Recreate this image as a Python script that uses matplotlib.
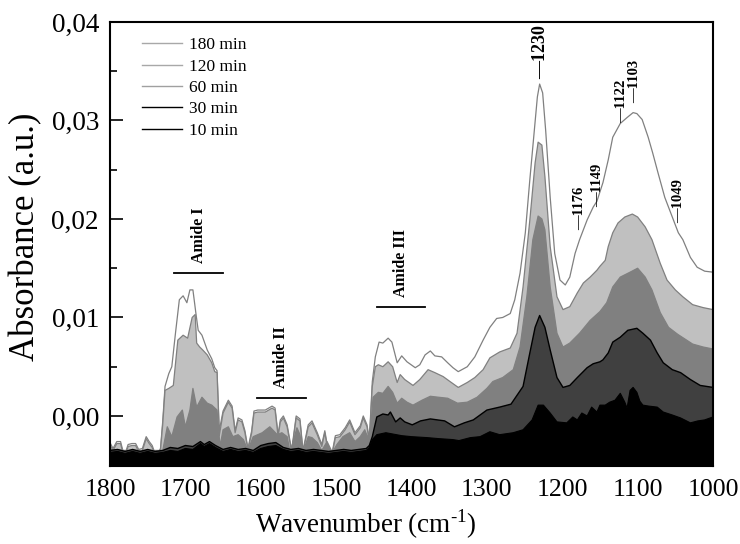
import matplotlib
matplotlib.use("Agg")
import matplotlib.pyplot as plt
from matplotlib.lines import Line2D
from matplotlib.ticker import MultipleLocator, FuncFormatter

plt.rcParams['font.family'] = ['Liberation Serif', 'DejaVu Serif']
plt.rcParams['mathtext.fontset'] = 'custom'
plt.rcParams['mathtext.rm'] = 'Liberation Serif'

# ---------------- data ----------------
w180 = [1800, 1796, 1791, 1786, 1781, 1776, 1771, 1766, 1762, 1757, 1752, 1748, 1744, 1739, 1733,
        1730, 1727, 1722, 1718, 1713, 1708, 1703, 1698, 1694, 1690, 1686, 1683, 1678, 1671, 1665,
        1661, 1658, 1655, 1650, 1643, 1638, 1634, 1630, 1625, 1621, 1617, 1612, 1609, 1604, 1594,
        1585, 1581, 1577, 1574, 1570, 1565, 1559, 1553, 1548, 1544, 1537, 1532, 1525, 1519, 1515,
        1511, 1505, 1501, 1495, 1488, 1482, 1475, 1468, 1464, 1459, 1456, 1452, 1448, 1443, 1438,
        1431, 1426, 1419, 1413, 1406, 1395, 1389, 1382, 1375, 1369, 1360, 1352, 1345, 1338, 1326,
        1316, 1305, 1296, 1287, 1279, 1269, 1263, 1256, 1249, 1243, 1237, 1233, 1230, 1226, 1222,
        1216, 1210, 1203, 1196, 1190, 1183, 1177, 1167, 1159, 1154, 1146, 1139, 1133, 1123, 1114,
        1106, 1101, 1094, 1086, 1080, 1073, 1064, 1054, 1046, 1040, 1030, 1021, 1011, 1000]
a180 = [-0.0027, -0.0033, -0.0026, -0.0026, -0.0041, -0.0029, -0.0028, -0.0028, -0.0034, -0.0033,
        -0.0021, -0.0026, -0.0030, -0.0041, -0.0033,
        -0.0005, 0.0030, 0.0043, 0.0050, 0.0085, 0.0118, 0.0122, 0.0115, 0.0128, 0.0128, 0.0104,
        0.0087, 0.0082, 0.0067, 0.0058, 0.0049, 0.0046, -0.0015, 0.0005, 0.0016, 0.0010, -0.0015,
        -0.0002, -0.0004, -0.0015, -0.0033, -0.0015, 0.0005, 0.0006, 0.0006, 0.0010, 0.0008,
        -0.0019, -0.0004, 0.0000, -0.0009, -0.0035, 0.0000, -0.0003, -0.0035, -0.0009, -0.0005,
        -0.0017, -0.0029, -0.0015, -0.0033, -0.0036, -0.0020, -0.0019, -0.0012, -0.0004, -0.0017,
        -0.0010, 0.0000, -0.0009, -0.0025, 0.0035, 0.0060, 0.0075, 0.0074, 0.0079, 0.0075, 0.0054,
        0.0061, 0.0055, 0.0049, 0.0052, 0.0062, 0.0066, 0.0061, 0.0060, 0.0054, 0.0049, 0.0045,
        0.0050, 0.0060, 0.0077, 0.0090, 0.0099, 0.0100, 0.0104, 0.0118, 0.0145, 0.0186, 0.0240,
        0.0290, 0.0324, 0.0337, 0.0328, 0.0290, 0.0222, 0.0165, 0.0138, 0.0133, 0.0141, 0.0165,
        0.0179, 0.0199, 0.0212, 0.0218, 0.0237, 0.0260, 0.0283, 0.0297, 0.0303, 0.0308, 0.0307,
        0.0301, 0.0283, 0.0267, 0.0247, 0.0222, 0.0202, 0.0186, 0.0179, 0.0161, 0.0151, 0.0147,
        0.0146]

w120 = [1800, 1796, 1791, 1786, 1781, 1776, 1771, 1766, 1762, 1757, 1752, 1748, 1744, 1739, 1733,
        1730, 1727, 1722, 1716, 1710, 1703, 1697, 1691, 1687, 1685, 1681, 1677, 1671, 1665, 1661,
        1658, 1655, 1650, 1643, 1638, 1634, 1630, 1625, 1621, 1617, 1612, 1609, 1604, 1594, 1585,
        1581, 1577, 1574, 1570, 1565, 1559, 1553, 1548, 1544, 1537, 1532, 1525, 1519, 1515, 1511,
        1505, 1501, 1495, 1488, 1482, 1475, 1468, 1464, 1459, 1456, 1452, 1448, 1444, 1438, 1431,
        1425, 1419, 1415, 1409, 1398, 1389, 1378, 1369, 1358, 1349, 1338, 1326, 1316, 1305, 1296,
        1283, 1269, 1260, 1252, 1243, 1236, 1232, 1227, 1223, 1216, 1207, 1199, 1190, 1180, 1172,
        1163, 1154, 1150, 1143, 1139, 1133, 1126, 1117, 1107, 1100, 1090, 1081, 1070, 1061, 1050,
        1040, 1027, 1013, 1000]
a120 = [-0.0029, -0.0035, -0.0028, -0.0028, -0.0043, -0.0031, -0.0030, -0.0030, -0.0036, -0.0035,
        -0.0023, -0.0028, -0.0032, -0.0043, -0.0035,
        -0.0008, 0.0026, 0.0028, 0.0031, 0.0077, 0.0082, 0.0079, 0.0100, 0.0103, 0.0074, 0.0070,
        0.0067, 0.0062, 0.0054, 0.0045, 0.0044, -0.0020, 0.0003, 0.0014, 0.0008, -0.0017, -0.0004,
        -0.0006, -0.0017, -0.0035, -0.0017, 0.0003, 0.0004, 0.0004, 0.0008, 0.0006, -0.0021,
        -0.0006, -0.0002, -0.0011, -0.0037, -0.0002, -0.0005, -0.0037, -0.0011, -0.0007, -0.0019,
        -0.0031, -0.0017, -0.0035, -0.0038, -0.0022, -0.0021, -0.0014, -0.0006, -0.0019, -0.0012,
        -0.0002, -0.0011, -0.0027, 0.0030, 0.0050, 0.0052, 0.0050, 0.0055, 0.0050, 0.0034, 0.0042,
        0.0037, 0.0031, 0.0037, 0.0047, 0.0044, 0.0040, 0.0035, 0.0029, 0.0034, 0.0039, 0.0047,
        0.0059, 0.0065, 0.0069, 0.0084, 0.0131, 0.0199, 0.0257, 0.0278, 0.0275, 0.0243, 0.0172,
        0.0121, 0.0108, 0.0111, 0.0125, 0.0135, 0.0141, 0.0148, 0.0152, 0.0158, 0.0172, 0.0186,
        0.0196, 0.0202, 0.0205, 0.0202, 0.0192, 0.0179, 0.0155, 0.0138, 0.0128, 0.0121, 0.0113,
        0.0110, 0.0108]

w60 = [1800, 1780, 1760, 1740, 1733, 1730, 1724, 1718, 1711, 1704, 1700, 1694, 1690, 1685, 1678,
       1671, 1665, 1658, 1654, 1650, 1643, 1637, 1630, 1623, 1617, 1610, 1598, 1588, 1578, 1572,
       1565, 1561, 1552, 1548, 1544, 1537, 1532, 1525, 1519, 1512, 1505, 1499, 1491, 1482, 1475,
       1468, 1462, 1458, 1454, 1451, 1444, 1438, 1431, 1425, 1419, 1413, 1406, 1398, 1386, 1375,
       1364, 1352, 1339, 1326, 1313, 1300, 1292, 1279, 1265, 1256, 1247, 1239, 1232, 1227, 1223,
       1216, 1207, 1199, 1190, 1177, 1163, 1150, 1141, 1133, 1123, 1110, 1100, 1090, 1081, 1070,
       1059, 1047, 1037, 1027, 1013, 1000]
a60 = [-0.0034, -0.0035, -0.0035, -0.0035, -0.0035, -0.0035, -0.0011, -0.0021, -0.0001, 0.0006,
       -0.0011, 0.0006, 0.0028, 0.0009, 0.0019, 0.0013, 0.0011, 0.0006, -0.0031, -0.0014, -0.0011,
       -0.0021, -0.0019, -0.0024, -0.0035, -0.0021, -0.0017, -0.0011, -0.0019, -0.0017, -0.0021,
       -0.0037, -0.0012, -0.0019, -0.0037, -0.0021, -0.0022, -0.0027, -0.0035, -0.0026, -0.0037,
       -0.0029, -0.0021, -0.0017, -0.0026, -0.0021, -0.0014, -0.0022, -0.0010, 0.0019, 0.0024,
       0.0023, 0.0030, 0.0024, 0.0013, 0.0018, 0.0014, 0.0011, 0.0016, 0.0020, 0.0019, 0.0018,
       0.0013, 0.0014, 0.0019, 0.0028, 0.0035, 0.0039, 0.0047, 0.0070, 0.0121, 0.0179, 0.0203,
       0.0200, 0.0189, 0.0131, 0.0084, 0.0070, 0.0074, 0.0084, 0.0097, 0.0106, 0.0115, 0.0131,
       0.0141, 0.0146, 0.0150, 0.0141, 0.0128, 0.0105, 0.0090, 0.0083, 0.0078, 0.0073, 0.0070,
       0.0068]

w30 = [1800, 1790, 1780, 1770, 1760, 1750, 1740, 1730, 1720, 1710, 1700, 1690, 1680, 1675, 1668,
       1660, 1650, 1640, 1630, 1620, 1610, 1600, 1590, 1580, 1570, 1560, 1550, 1540, 1530, 1520,
       1510, 1500, 1490, 1480, 1470, 1460, 1456, 1452, 1446, 1438, 1431, 1428, 1421, 1415, 1409,
       1399, 1388, 1375, 1356, 1343, 1330, 1318, 1300, 1283, 1268, 1252, 1243, 1236, 1230, 1223,
       1216, 1207, 1199, 1190, 1180, 1167, 1159, 1150, 1146, 1139, 1133, 1123, 1113, 1101, 1093,
       1083, 1074, 1066, 1054, 1043, 1030, 1017, 1000]
a30 = [-0.0035, -0.0034, -0.0036, -0.0034, -0.0036, -0.0034, -0.0036, -0.0035, -0.0032, -0.0033,
       -0.0030, -0.0031, -0.0026, -0.0029, -0.0026, -0.0030, -0.0034, -0.0032, -0.0034, -0.0033,
       -0.0035, -0.0030, -0.0028, -0.0027, -0.0032, -0.0034, -0.0033, -0.0035, -0.0034, -0.0035,
       -0.0036, -0.0035, -0.0034, -0.0035, -0.0034, -0.0033, -0.0030, -0.0021, -0.0001, 0.0002,
       0.0001, 0.0004, -0.0006, -0.0002, -0.0006, -0.0009, -0.0005, -0.0003, -0.0005, -0.0011,
       -0.0007, -0.0004, 0.0006, 0.0009, 0.0012, 0.0030, 0.0064, 0.0090, 0.0102, 0.0090, 0.0067,
       0.0039, 0.0029, 0.0031, 0.0039, 0.0049, 0.0053, 0.0055, 0.0057, 0.0064, 0.0075, 0.0080,
       0.0087, 0.0089, 0.0084, 0.0077, 0.0064, 0.0054, 0.0047, 0.0044, 0.0037, 0.0031, 0.0029]

w10 = [1800, 1790, 1780, 1770, 1760, 1750, 1740, 1730, 1720, 1710, 1700, 1690, 1680, 1675, 1668,
       1660, 1650, 1640, 1630, 1620, 1610, 1600, 1590, 1580, 1570, 1560, 1550, 1540, 1530, 1520,
       1510, 1500, 1490, 1480, 1470, 1460, 1456, 1452, 1446, 1434, 1427, 1413, 1400, 1379, 1364,
       1345, 1337, 1322, 1309, 1296, 1283, 1265, 1252, 1240, 1232, 1225, 1216, 1207, 1194, 1186,
       1180, 1174, 1167, 1161, 1154, 1150, 1143, 1137, 1130, 1123, 1117, 1114, 1110, 1106, 1101,
       1097, 1093, 1085, 1074, 1066, 1054, 1043, 1030, 1020, 1011, 1000]
a10 = [-0.0037, -0.0036, -0.0038, -0.0036, -0.0038, -0.0036, -0.0038, -0.0037, -0.0035, -0.0036,
       -0.0033, -0.0034, -0.0028, -0.0031, -0.0028, -0.0032, -0.0036, -0.0034, -0.0036, -0.0035,
       -0.0037, -0.0033, -0.0031, -0.0030, -0.0034, -0.0036, -0.0035, -0.0037, -0.0036, -0.0037,
       -0.0038, -0.0037, -0.0036, -0.0037, -0.0036, -0.0035, -0.0032, -0.0024, -0.0019, -0.0017,
       -0.0018, -0.0020, -0.0021, -0.0022, -0.0023, -0.0024, -0.0025, -0.0022, -0.0021, -0.0016,
       -0.0019, -0.0017, -0.0014, -0.0004, 0.0011, 0.0011, 0.0003, -0.0006, -0.0007, -0.0001,
       -0.0004, 0.0003, 0.0000, 0.0009, 0.0004, 0.0011, 0.0011, 0.0014, 0.0016, 0.0023, 0.0014,
       0.0008, 0.0026, 0.0029, 0.0024, 0.0015, 0.0011, 0.0010, 0.0009, 0.0004, 0.0001, -0.0002,
       -0.0007, -0.0005, -0.0004, -0.0001]

series_labels = ["180 min", "120 min", "60 min", "30 min", "10 min"]

region_names = ["Amide I", "Amide II", "Amide III"]
region_start = [1715, 1605, 1446]
region_end = [1650, 1540, 1382]
region_level = [0.0145, 0.0018, 0.0111]

peak_labels = ["1230", "1176", "1149", "1122", "1103", "1049"]
peak_pos = [1229, 1177, 1153, 1121, 1104, 1045]
peak_level = [0.0342, 0.0189, 0.0212, 0.0297, 0.0318, 0.0196]
peak_size = [13, 10.5, 10.5, 10.5, 10.5, 10.5]

# ---------------- figure ----------------
fig = plt.figure(figsize=(7.4, 5.44), dpi=100)
ax = fig.add_axes([110 / 740, 1 - 466 / 544, 603 / 740, 444 / 544])

base = -0.006
styles = [
    (w180, a180, 'white', '#808080', 0.9),
    (w120, a120, '#c0c0c0', '#808080', 0.9),
    (w60, a60, '#808080', '#808080', 0.9),
    (w30, a30, '#404040', 'black', 1.0),
    (w10, a10, 'black', 'black', 0.8),
]
for i, (w, a, fc, ec, lw) in enumerate(styles):
    ax.fill_between(w, a, base, facecolor=fc, edgecolor='none', zorder=1 + i)
    ax.plot(w, a, color=ec, lw=lw, zorder=1.5 + i)

ax.set_xlim(1800, 1000)
ax.set_ylim(-0.00508, 0.04)
ax.xaxis.set_major_locator(MultipleLocator(100))
ax.xaxis.set_minor_locator(MultipleLocator(50))
ax.yaxis.set_major_locator(MultipleLocator(0.01))
ax.yaxis.set_minor_locator(MultipleLocator(0.005))
ax.yaxis.set_major_formatter(FuncFormatter(lambda v, p: f"{v:.2f}".replace('.', ',')))
ax.tick_params(which='both', direction='in', top=False, right=False, width=1.2)
ax.tick_params(which='major', length=9)
ax.tick_params(which='minor', length=5)
ax.tick_params(axis='y', labelsize=19.5, pad=8)
ax.tick_params(axis='x', labelsize=18.5, pad=9)
for s in ax.spines.values():
    s.set_linewidth(1.5)
    s.set_zorder(20)

fig.text(366 / 740, 1 - 524 / 544, "Wavenumber (cm$^{\\mathregular{\u2010}1}$)",
         ha='center', va='center', fontsize=19.5)
fig.text(26 / 740, 1 - 237 / 544, "Absorbance (a.u.)", rotation=90,
         ha='center', va='center', fontsize=25)

for name, s0, s1, lvl in zip(region_names, region_start, region_end, region_level):
    ax.plot([s0, s1], [lvl, lvl], color='black', lw=1.3, zorder=30)
    ax.text((s0 + s1) / 2, lvl + 0.001, name, rotation=90, ha='center', va='bottom',
            fontsize=11.5, fontweight='bold', zorder=30)

for lab, pos, lvl, fs in zip(peak_labels, peak_pos, peak_level, peak_size):
    ax.text(pos, lvl, "\u2014" + lab, rotation=90, ha='center', va='bottom',
            fontsize=fs, fontweight='bold', zorder=30)

handles = [Line2D([], [], color=c, lw=1) for c in ['#a8a8a8', '#a8a8a8', '#a0a0a0', 'black', 'black']]
leg = ax.legend(handles, series_labels, loc='upper left', bbox_to_anchor=(0.053, 0.966),
                frameon=False, fontsize=12.5, handlelength=2.3, handletextpad=0.4,
                labelspacing=0.3, borderpad=0, borderaxespad=0)
leg.set_zorder(40)

fig.savefig("out.png", dpi=100)
